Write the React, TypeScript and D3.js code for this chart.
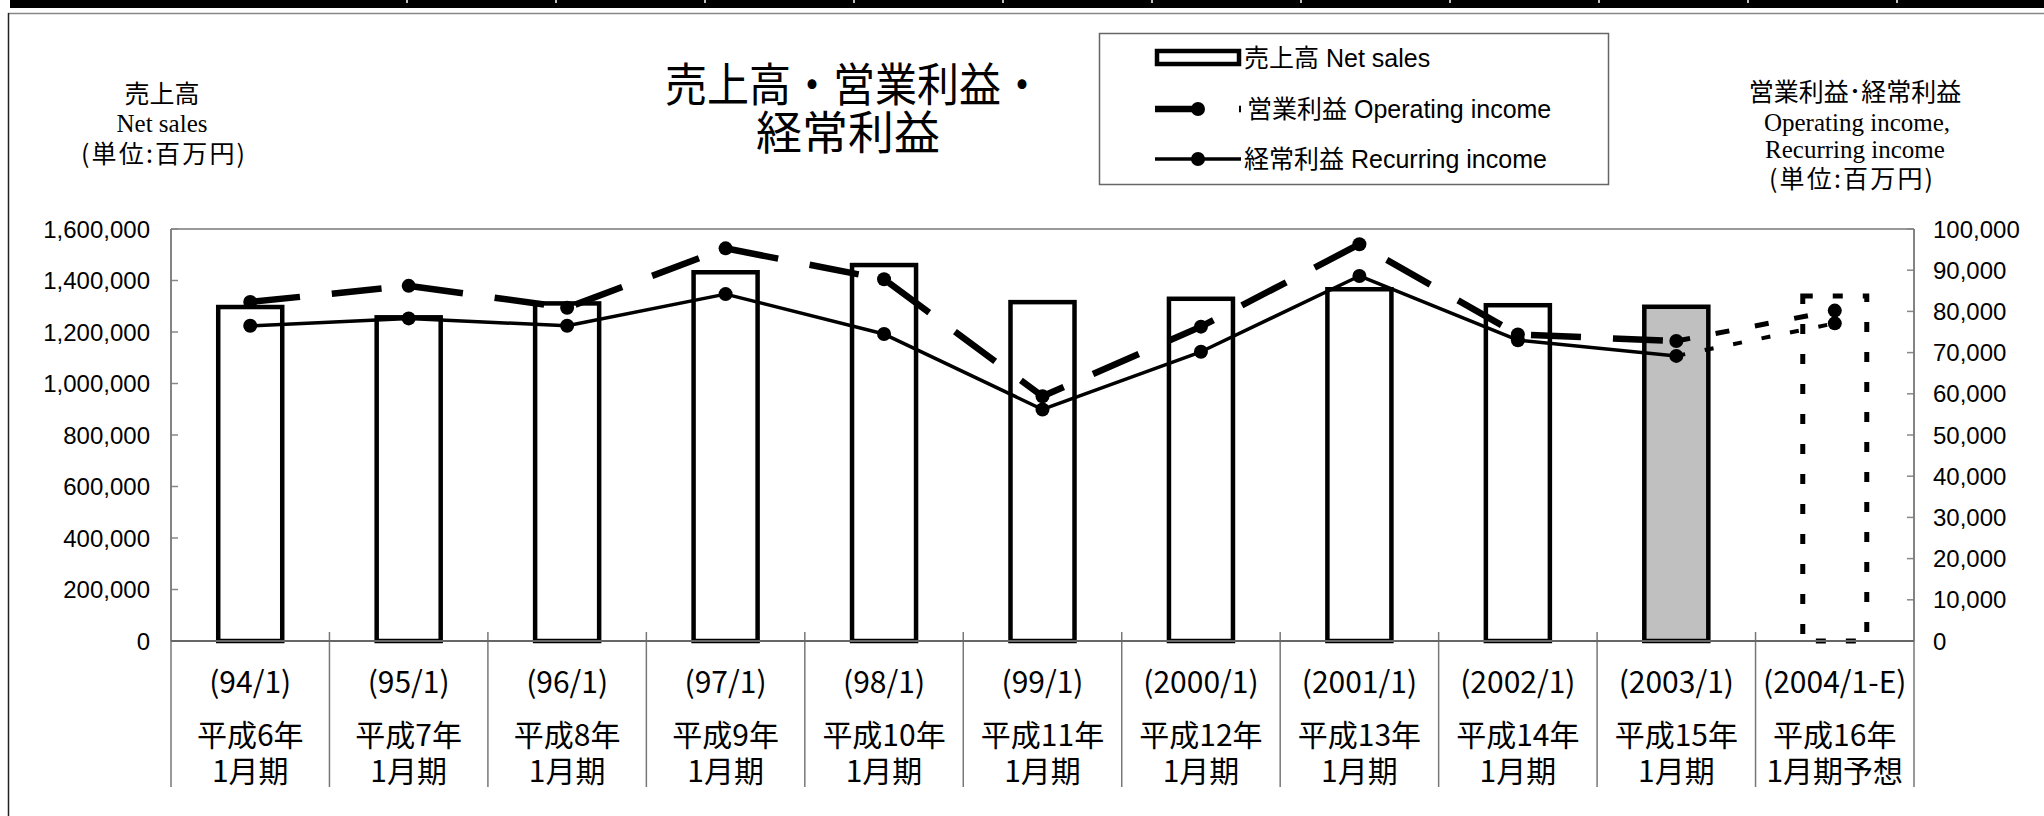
import React from "react";
import * as d3 from "d3";

// ---- data ----
const periodCodes = ["(94/1)", "(95/1)", "(96/1)", "(97/1)", "(98/1)", "(99/1)", "(2000/1)", "(2001/1)", "(2002/1)", "(2003/1)", "(2004/1-E)"];
const heiseiLabels = ["平成6年", "平成7年", "平成8年", "平成9年", "平成10年", "平成11年", "平成12年", "平成13年", "平成14年", "平成15年", "平成16年"];
const periodLabels = ["1月期", "1月期", "1月期", "1月期", "1月期", "1月期", "1月期", "1月期", "1月期", "1月期", "1月期予想"];
const netSales = [1297000, 1257000, 1311000, 1432000, 1460000, 1316000, 1329000, 1366000, 1304000, 1298000, 1340000];
const operatingIncome = [82300, 86200, 80900, 95300, 87800, 59400, 76300, 96300, 74400, 72800, 80200];
const recurringIncome = [76500, 78300, 76500, 84200, 74500, 56200, 70200, 88600, 73000, 69200, 77100];
const leftTicks = [0, 200000, 400000, 600000, 800000, 1000000, 1200000, 1400000, 1600000];
const rightTicks = [0, 10000, 20000, 30000, 40000, 50000, 60000, 70000, 80000, 90000, 100000];
const actualCount = 10; // first 10 periods are actual; last one is forecast
const highlightIndex = 9; // 2003/1 bar shaded

const W = 2044;
const H = 816;
const plot = { left: 171, right: 1914, top: 229, bottom: 641 };

const JP = "'Noto Sans CJK JP', sans-serif";
const SANS = "'Liberation Sans', 'Noto Sans CJK JP', sans-serif";
const SERIF = "'Liberation Serif', 'DejaVu Serif', serif";

export default function App() {
  const x = d3.scaleBand<number>().domain(d3.range(periodCodes.length)).range([plot.left, plot.right]);
  const yL = d3.scaleLinear().domain([0, 1600000]).range([plot.bottom, plot.top]);
  const yR = d3.scaleLinear().domain([0, 100000]).range([plot.bottom, plot.top]);
  const cx = (i: number) => (x(i) as number) + x.bandwidth() / 2;
  const barW = x.bandwidth() * 0.404;
  const fmt = d3.format(",");

  const line = d3.line<number>().x((_, i) => cx(i)).y((d) => yR(d));
  const opActual = operatingIncome.slice(0, actualCount);
  const recActual = recurringIncome.slice(0, actualCount);
  const opForecast = d3.line<number>().x((_, i) => cx(actualCount - 1 + i)).y((d) => yR(d))(operatingIncome.slice(actualCount - 1));
  const recForecast = d3.line<number>().x((_, i) => cx(actualCount - 1 + i)).y((d) => yR(d))(recurringIncome.slice(actualCount - 1));

  const dividers = d3.range(periodCodes.length + 1).map((i) => plot.left + i * x.step());
  const topDividers = d3.range(11).map((i) => 407 + i * 149);

  return (
    <svg width={W} height={H} style={{ position: "absolute", left: 0, top: 0, background: "#fff" }}>
      <rect x={0} y={0} width={W} height={H} fill="#fff" />
      {/* top strip from a table above */}
      <rect x={10} y={0} width={W - 10} height={8} fill="#000" />
      {topDividers.map((d, i) => (
        <line key={i} x1={d} x2={d} y1={0} y2={3} stroke="#fff" strokeWidth={1.5} />
      ))}
      {/* chart frame */}
      <line x1={8} x2={W} y1={13.5} y2={13.5} stroke="#888" strokeWidth={1.5} />
      <line x1={8.5} x2={8.5} y1={13} y2={H} stroke="#222" strokeWidth={1.5} />

      {/* title */}
      <text x={854} y={81} fontFamily={JP} fontSize={46} textAnchor="middle" dominantBaseline="central" textLength={378} lengthAdjust="spacingAndGlyphs">売上高・営業利益・</text>
      <text x={848} y={129} fontFamily={JP} fontSize={46} textAnchor="middle" dominantBaseline="central">経常利益</text>

      {/* left axis title */}
      <text x={162} y={92} fontFamily={JP} fontSize={25} textAnchor="middle" dominantBaseline="central">売上高</text>
      <text x={162} y={123} fontFamily={SERIF} fontSize={25} textAnchor="middle" dominantBaseline="central">Net sales</text>
      <text x={163} y={152} fontFamily={JP} fontSize={25} textAnchor="middle" dominantBaseline="central" textLength={164} lengthAdjust="spacing">(単位:百万円)</text>

      {/* right axis title */}
      <text x={1855} y={90} fontFamily={JP} fontSize={25} textAnchor="middle" dominantBaseline="central">営業利益･経常利益</text>
      <text x={1857} y={122} fontFamily={SERIF} fontSize={25} textAnchor="middle" dominantBaseline="central">Operating income,</text>
      <text x={1855} y={149} fontFamily={SERIF} fontSize={25} textAnchor="middle" dominantBaseline="central">Recurring income</text>
      <text x={1851} y={177} fontFamily={JP} fontSize={25} textAnchor="middle" dominantBaseline="central" textLength={164} lengthAdjust="spacing">(単位:百万円)</text>

      {/* legend */}
      <rect x={1099.5} y={33.5} width={509} height={151} fill="#fff" stroke="#666" strokeWidth={1.5} />
      <rect x={1157} y={51} width={82} height={13} fill="#fff" stroke="#000" strokeWidth={4.5} />
      <text x={1244} y={58} fontFamily={SANS} fontSize={25} dominantBaseline="central">売上高 Net sales</text>
      <line x1={1155} x2={1241} y1={109} y2={109} stroke="#000" strokeWidth={6.5} strokeDasharray="48 36" />
      <circle cx={1198} cy={109} r={7} fill="#000" />
      <text x={1247} y={109} fontFamily={SANS} fontSize={25} dominantBaseline="central">営業利益 Operating income</text>
      <line x1={1155} x2={1241} y1={159} y2={159} stroke="#000" strokeWidth={3.5} />
      <circle cx={1198} cy={159} r={7} fill="#000" />
      <text x={1244} y={159} fontFamily={SANS} fontSize={25} dominantBaseline="central">経常利益 Recurring income</text>

      {/* plot frame */}
      <line x1={plot.left} x2={plot.right} y1={plot.top} y2={plot.top} stroke="#999" strokeWidth={2} />
      <line x1={plot.left} x2={plot.left} y1={plot.top} y2={plot.bottom} stroke="#888" strokeWidth={1.5} />
      <line x1={plot.right} x2={plot.right} y1={plot.top} y2={plot.bottom} stroke="#888" strokeWidth={1.5} />

      {/* left ticks */}
      {leftTicks.map((t) => (
        <g key={"l" + t}>
          <line x1={plot.left} x2={plot.left + 7} y1={yL(t)} y2={yL(t)} stroke="#888" strokeWidth={1.5} />
          <text x={150} y={yL(t)} fontFamily={SANS} fontSize={24} textAnchor="end" dominantBaseline="central">{fmt(t)}</text>
        </g>
      ))}
      {/* right ticks */}
      {rightTicks.map((t) => (
        <g key={"r" + t}>
          <line x1={plot.right - 7} x2={plot.right} y1={yR(t)} y2={yR(t)} stroke="#888" strokeWidth={1.5} />
          <text x={1933} y={yR(t)} fontFamily={SANS} fontSize={24} dominantBaseline="central">{fmt(t)}</text>
        </g>
      ))}

      {/* category dividers */}
      {dividers.map((d, i) => (
        <line key={"d" + i} x1={d} x2={d} y1={i === 0 || i === dividers.length - 1 ? plot.top : 632} y2={787} stroke="#777" strokeWidth={1.5} />
      ))}

      {/* bars */}
      {netSales.map((v, i) => (
        <rect
          key={"b" + i}
          x={cx(i) - barW / 2}
          y={yL(v)}
          width={barW}
          height={yL(0) - yL(v)}
          fill={i === highlightIndex ? "#c0c0c0" : i >= actualCount ? "none" : "#fff"}
          stroke="#000"
          strokeWidth={i >= actualCount ? 5 : 4.5}
          strokeDasharray={i >= actualCount ? "10 20" : undefined}
        />
      ))}

      {/* bottom axis */}
      <line x1={plot.left} x2={plot.right} y1={plot.bottom} y2={plot.bottom} stroke="#666" strokeWidth={2} />

      {/* lines */}
      <path d={line(recActual) || ""} fill="none" stroke="#000" strokeWidth={3.5} strokeLinejoin="round" />
      <path d={line(opActual) || ""} fill="none" stroke="#000" strokeWidth={6.5} strokeDasharray="50 32" />
      <path d={recForecast || ""} fill="none" stroke="#000" strokeWidth={4} strokeDasharray="9 20" />
      <path d={opForecast || ""} fill="none" stroke="#000" strokeWidth={5} strokeDasharray="14 26" />
      {operatingIncome.map((v, i) => (
        <circle key={"o" + i} cx={cx(i)} cy={yR(v)} r={7} fill="#000" />
      ))}
      {recurringIncome.map((v, i) => (
        <circle key={"c" + i} cx={cx(i)} cy={yR(v)} r={7} fill="#000" />
      ))}

      {/* category labels */}
      {periodCodes.map((c, i) => (
        <g key={"t" + i}>
          <text x={cx(i)} y={680} fontFamily={JP} fontSize={30} textAnchor="middle" dominantBaseline="central">{c}</text>
          <text x={cx(i)} y={733} fontFamily={JP} fontSize={30} textAnchor="middle" dominantBaseline="central">{heiseiLabels[i]}</text>
          <text x={cx(i)} y={769} fontFamily={JP} fontSize={30} textAnchor="middle" dominantBaseline="central">{periodLabels[i]}</text>
        </g>
      ))}
    </svg>
  );
}
